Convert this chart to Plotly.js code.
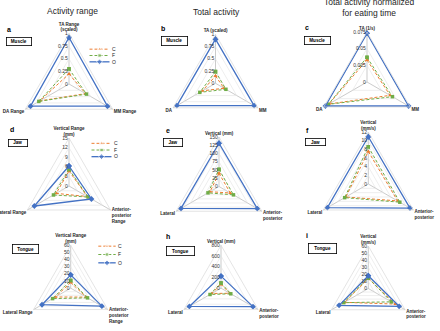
<!DOCTYPE html>
<html><head><meta charset="utf-8">
<script src="https://cdn.plot.ly/plotly-3.0.1.min.js"></script>
<style>html,body{margin:0;padding:0;background:#fff}#chart{width:440px;height:331px}</style>
</head><body><div id="chart"></div>
<script>
// ---- data ----
const seriesNames = ['C', 'F', 'O'];

const muscleRangeAxes = ['TA Range<br>(scaled)', 'MM Range', 'DA Range'];
const muscleRangeC = [0.20, 0.38, 0.67];
const muscleRangeF = [0.30, 0.40, 0.69];
const muscleRangeO = [0.92, 0.88, 0.88];

const muscleTotalAxes = ['TA (scaled)', 'MM', 'DA'];
const muscleTotalC = [0.15, 0.20, 0.31];
const muscleTotalF = [0.24, 0.245, 0.37];
const muscleTotalO = [0.90, 0.91, 0.91];

const muscleNormAxes = ['TA (1/s)', 'MM', 'DA'];
const muscleNormC = [0.033, 0.040, 0.066];
const muscleNormF = [0.037, 0.044, 0.067];
const muscleNormO = [0.073, 0.072, 0.072];

const jawRangeAxes = ['Vertical Range<br>(mm)', 'Anterior-<br>posterior<br>Range', 'Lateral Range'];
const jawRangeC = [4.7, 6.6, 4.6];
const jawRangeF = [5.2, 6.9, 5.6];
const jawRangeO = [6.25, 8.1, 12.5];

const jawTotalAxes = ['Vertical (mm)', 'Anterior-<br>posterior', 'Lateral'];
const jawTotalC = [40, 39.5, 31.5];
const jawTotalF = [52, 50.6, 38.5];
const jawTotalO = [131, 134, 133];

const jawNormAxes = ['Vertical<br>(mm/s)', 'Anterior-<br>posterior', 'Lateral'];
const jawNormC = [7.5, 7.8, 6.0];
const jawNormF = [8.6, 8.4, 6.3];
const jawNormO = [10.9, 11.1, 10.9];

const tongueRangeAxes = ['Vertical Range<br>(mm)', 'Anterior-<br>posterior<br>Range', 'Lateral Range'];
const tongueRangeC = [8, 25, 24.7];
const tongueRangeF = [10.8, 27.2, 29.3];
const tongueRangeO = [18.6, 50.4, 46.4];

const tongueTotalAxes = ['Vertical (mm)', 'Anterior-<br>posterior', 'Lateral'];
const tongueTotalC = [72, 191, 199];
const tongueTotalF = [97, 211, 237];
const tongueTotalO = [225, 690, 682];

const tongueNormAxes = ['Vertical<br>(mm/s)', 'Anterior-<br>posterior', 'Lateral'];
const tongueNormC = [14, 44, 39];
const tongueNormF = [15, 37.6, 40];
const tongueNormO = [18, 50.3, 47.6];

const legendSampleX = [0, 1, 2];

// ---- styling / layout ----
const W = 440, H = 331;
const colors = ['#ED7D31', '#70AD47', '#4472C4'];
const symbols = ['triangle-up', 'square', 'diamond'];
const msize = [3.5, 3.5, 4.5];
const FONT = 'Liberation Sans, Arial, sans-serif';

const panels = [
  {axes: muscleRangeAxes, vals: [muscleRangeC, muscleRangeF, muscleRangeO], max: 1, dtick: 0.25, cx: 69, cy: 84, R: 50.5},
  {axes: muscleTotalAxes, vals: [muscleTotalC, muscleTotalF, muscleTotalO], max: 1, dtick: 0.25, cx: 215.5, cy: 83.3, R: 49},
  {axes: muscleNormAxes, vals: [muscleNormC, muscleNormF, muscleNormO], max: 0.075, dtick: 0.025, cx: 367, cy: 82, R: 50},
  {axes: jawRangeAxes, vals: [jawRangeC, jawRangeF, jawRangeO], max: 15, dtick: 3, cx: 69, cy: 186, R: 48},
  {axes: jawTotalAxes, vals: [jawTotalC, jawTotalF, jawTotalO], max: 150, dtick: 25, cx: 219, cy: 186.5, R: 49.5},
  {axes: jawNormAxes, vals: [jawNormC, jawNormF, jawNormO], max: 12, dtick: 2, cx: 368.3, cy: 184, R: 52},
  {axes: tongueRangeAxes, vals: [tongueRangeC, tongueRangeF, tongueRangeO], max: 60, dtick: 10, cx: 70.7, cy: 297, R: 51.7},
  {axes: tongueTotalAxes, vals: [tongueTotalC, tongueTotalF, tongueTotalO], max: 800, dtick: 200, cx: 221, cy: 295, R: 49.7},
  {axes: tongueNormAxes, vals: [tongueNormC, tongueNormF, tongueNormO], max: 60, dtick: 10, cx: 368.3, cy: 297, R: 51}
];

const px = x => x / W;
const py = y => 1 - y / H;

const traces = [];
const layout = {
  width: W, height: H,
  margin: {l: 0, r: 0, t: 0, b: 0},
  paper_bgcolor: '#fff', plot_bgcolor: 'rgba(0,0,0,0)',
  showlegend: false,
  font: {family: FONT, color: '#262626'},
  annotations: []
};

panels.forEach((p, k) => {
  const sp = k === 0 ? 'polar' : 'polar' + (k + 1);
  layout[sp] = {
    domain: {x: [px(p.cx - p.R), px(p.cx + p.R)], y: [py(p.cy + p.R), py(p.cy - p.R)]},
    gridshape: 'linear',
    bgcolor: 'rgba(0,0,0,0)',
    angularaxis: {
      type: 'category', categoryorder: 'array', categoryarray: p.axes,
      rotation: 90, direction: 'clockwise',
      showgrid: true, gridcolor: '#b5b5b5', gridwidth: 0.7,
      showline: true, linecolor: '#d9d9d9', linewidth: 0.7,
      ticks: '', tickfont: {size: 4.5, color: '#262626', family: FONT, weight: 'bold'}
    },
    radialaxis: {
      range: [0, p.max], tick0: 0, dtick: p.dtick, angle: 90, tickangle: 90,
      side: 'counterclockwise', showline: false, showgrid: true,
      gridcolor: '#e3e3e3', gridwidth: 0.6, ticks: '',
      tickfont: {size: 5, color: '#333333', family: FONT}
    }
  };
  seriesNames.forEach((s, j) => {
    traces.push({
      type: 'scatterpolar', subplot: sp, name: s,
      r: p.vals[j].concat([p.vals[j][0]]),
      theta: p.axes.concat([p.axes[0]]),
      mode: 'lines+markers',
      line: {color: colors[j], width: j === 2 ? 1.3 : 1, dash: j === 2 ? 'solid' : '3px,2px'},
      marker: {color: colors[j], symbol: symbols[j], size: msize[j]},
      cliponaxis: false, hoverinfo: 'skip', showlegend: false
    });
  });
});

// mini legends (rows C, F, O) drawn on small hidden axes
const legendBoxes = [
  {x0: 88, x1: 111, y0: 46, y1: 65},
  {x0: 90, x1: 113, y0: 140, y1: 160},
  {x0: 97, x1: 117, y0: 242, y1: 267}
];
legendBoxes.forEach((b, k) => {
  const xa = k === 0 ? 'xaxis' : 'xaxis' + (k + 1);
  const ya = k === 0 ? 'yaxis' : 'yaxis' + (k + 1);
  layout[xa] = {domain: [px(b.x0), px(b.x1)], range: [-0.15, 2.15], visible: false, fixedrange: true, anchor: ya.replace('axis', '')};
  layout[ya] = {domain: [py(b.y1), py(b.y0)], range: [2.5, -0.5], side: 'right', anchor: xa.replace('axis', ''),
    showgrid: false, zeroline: false, showline: false, ticks: '',
    tickvals: seriesNames.map((s, j) => j), ticktext: seriesNames,
    tickfont: {size: 5, color: '#262626', family: FONT}, fixedrange: true};
  seriesNames.forEach((s, j) => {
    traces.push({
      type: 'scatter', xaxis: xa.replace('axis', ''), yaxis: ya.replace('axis', ''),
      x: legendSampleX, y: legendSampleX.map(() => j),
      mode: 'lines+markers',
      line: {color: colors[j], width: j === 2 ? 1.3 : 1, dash: j === 2 ? 'solid' : '3px,2px'},
      marker: {color: colors[j], symbol: symbols[j], size: legendSampleX.map(v => v === 1 ? msize[j] : 0)},
      cliponaxis: false, hoverinfo: 'skip', showlegend: false
    });
  });
});

function ann(text, x, y, opts) {
  layout.annotations.push(Object.assign({
    text: text, x: px(x), y: py(y), xref: 'paper', yref: 'paper',
    showarrow: false, xanchor: 'center', yanchor: 'middle'
  }, opts || {}));
}
// column titles
ann('Activity range', 72, 10.5, {font: {size: 8.5, color: '#262626', family: FONT}});
ann('Total activity', 216, 12, {font: {size: 8.5, color: '#262626', family: FONT}});
ann('Total activity normalized<br>for eating time', 369.5, 7, {font: {size: 8.5, color: '#262626', family: FONT}});

// panel letters
const letters = [['a', 9, 29], ['b', 162.7, 28.3], ['c', 307, 27.7], ['d', 12.3, 129.3], ['e', 167.7, 130], ['f', 307.3, 130], ['h', 167.7, 236.7], ['i', 307.3, 235.7]];
letters.forEach(l => ann(l[0], l[1], l[2], {font: {size: 7, color: '#000', family: FONT, weight: 'bold'}}));

// group boxes
const boxes = [
  ['Muscle', 19.2, 41.3, 24, 7], ['Muscle', 174.5, 41.2, 25, 8], ['Muscle', 317.8, 40.8, 25, 7],
  ['Jaw', 17.5, 143, 18, 6], ['Jaw', 172.8, 142.2, 18.5, 7], ['Jaw', 315, 142.3, 19.5, 6.5],
  ['Tongue', 25.3, 248.7, 25.5, 8.5], ['Tongue', 180.5, 250.5, 27, 8.5], ['Tongue', 322.5, 248.3, 27.5, 9]
];
boxes.forEach(b => ann(b[0], b[1], b[2], {
  width: b[3], height: b[4], borderpad: 0, bordercolor: '#000', borderwidth: 0.8, bgcolor: '#fff',
  font: {size: 4.6, color: '#000', family: FONT, weight: 'bold'}
}));

Plotly.newPlot('chart', traces, layout, {staticPlot: true, displayModeBar: false});
</script>
</body></html>
